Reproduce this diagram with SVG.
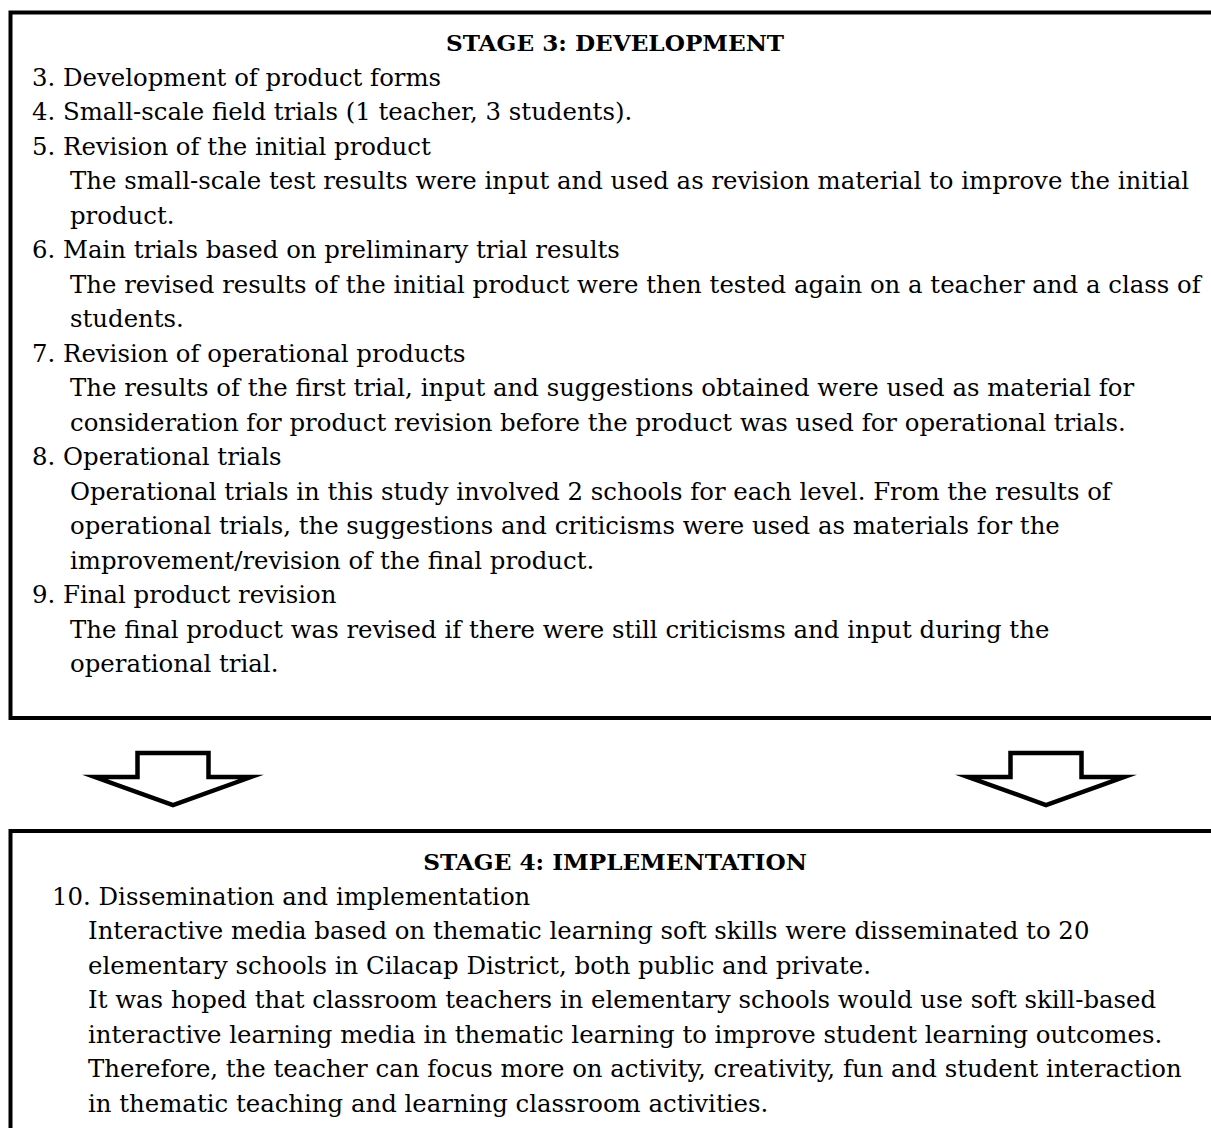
<svg xmlns="http://www.w3.org/2000/svg" width="1211" height="1128" viewBox="0 0 1211 1128">
<style>
.box{fill:#fff;stroke:#000;stroke-width:4}
.t{font-family:"DejaVu Serif","Liberation Serif",serif;font-size:24.4px;fill:#000}
.h{font-family:"DejaVu Serif","Liberation Serif",serif;font-size:23.2px;font-weight:bold;fill:#000;text-anchor:middle}
.arr{fill:#fff;stroke:#000;stroke-width:4.5;stroke-linejoin:miter;stroke-miterlimit:10}
</style>
<rect width="1211" height="1128" fill="#fff"/>
<g id="stage3">
<rect class="box" x="10.5" y="12.5" width="1210" height="705.5"/>
<text class="h" x="615" y="51">STAGE 3: DEVELOPMENT</text>
<text class="t" x="32" y="85.5">3. Development of product forms</text>
<text class="t" x="32" y="120">4. Small-scale field trials (1 teacher, 3 students).</text>
<text class="t" x="32" y="154.5">5. Revision of the initial product</text>
<text class="t" x="70" y="189">The small-scale test results were input and used as revision material to improve the initial</text>
<text class="t" x="70" y="223.5">product.</text>
<text class="t" x="32" y="258">6. Main trials based on preliminary trial results</text>
<text class="t" x="70" y="292.5">The revised results of the initial product were then tested again on a teacher and a class of</text>
<text class="t" x="70" y="327">students.</text>
<text class="t" x="32" y="361.5">7. Revision of operational products</text>
<text class="t" x="70" y="396">The results of the first trial, input and suggestions obtained were used as material for</text>
<text class="t" x="70" y="430.5">consideration for product revision before the product was used for operational trials.</text>
<text class="t" x="32" y="465">8. Operational trials</text>
<text class="t" x="70" y="499.5">Operational trials in this study involved 2 schools for each level. From the results of</text>
<text class="t" x="70" y="534">operational trials, the suggestions and criticisms were used as materials for the</text>
<text class="t" x="70" y="568.5">improvement/revision of the final product.</text>
<text class="t" x="32" y="603">9. Final product revision</text>
<text class="t" x="70" y="637.5">The final product was revised if there were still criticisms and input during the</text>
<text class="t" x="70" y="672">operational trial.</text>
</g>
<g id="connectors">
<path class="arr" d="M137.5,753 H208.5 V777 H251 L173,805 L95,777 H137.5 Z"/>
<path class="arr" d="M1010.5,753 H1081.5 V777 H1124 L1046,805 L968,777 H1010.5 Z"/>
</g>
<g id="stage4">
<rect class="box" x="10.5" y="831" width="1210" height="320"/>
<text class="h" x="615" y="870">STAGE 4: IMPLEMENTATION</text>
<text class="t" x="52" y="904.5">10. Dissemination and implementation</text>
<text class="t" x="88" y="939">Interactive media based on thematic learning soft skills were disseminated to 20</text>
<text class="t" x="88" y="973.5">elementary schools in Cilacap District, both public and private.</text>
<text class="t" x="88" y="1008">It was hoped that classroom teachers in elementary schools would use soft skill-based</text>
<text class="t" x="88" y="1042.5">interactive learning media in thematic learning to improve student learning outcomes.</text>
<text class="t" x="88" y="1077">Therefore, the teacher can focus more on activity, creativity, fun and student interaction</text>
<text class="t" x="88" y="1111.5">in thematic teaching and learning classroom activities.</text>
</g>
</svg>
